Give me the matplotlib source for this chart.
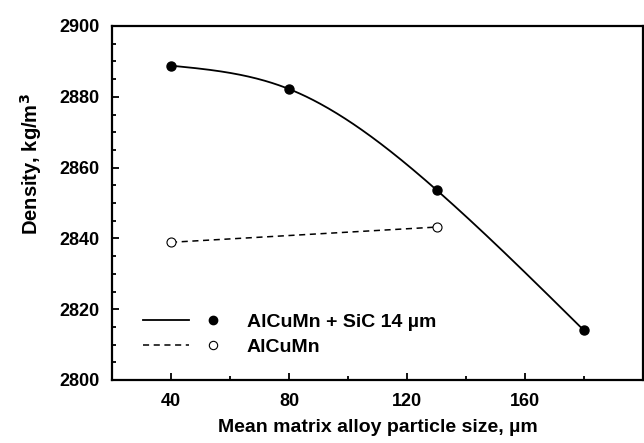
import numpy as np
import matplotlib
matplotlib.use("Agg")
from matplotlib import pyplot as plt
from matplotlib.legend_handler import HandlerTuple
from matplotlib.lines import Line2D
from matplotlib.ticker import FixedLocator, MultipleLocator

# donnees
size_sic = [40, 80, 130, 180]
density_sic = [2888.8, 2882.2, 2853.7, 2814.0]
size_base = [40, 130]
density_base = [2838.9, 2843.2]

x_ticks = [40, 80, 120, 160]
x_minor = [60, 100, 140, 180]

label_sic = "AlCuMn + SiC 14 µm"
label_base = "AlCuMn"


def spline_naturelle(x, y, xs):
    # spline cubique naturelle (derivees secondes nulles aux bouts)
    x = np.asarray(x, float)
    y = np.asarray(y, float)
    n = len(x)
    h = np.diff(x)
    A = np.zeros((n, n))
    r = np.zeros(n)
    A[0, 0] = 1
    A[-1, -1] = 1
    for i in range(1, n - 1):
        A[i, i - 1] = h[i - 1]
        A[i, i] = 2 * (h[i - 1] + h[i])
        A[i, i + 1] = h[i]
        r[i] = 6 * ((y[i + 1] - y[i]) / h[i] - (y[i] - y[i - 1]) / h[i - 1])
    M = np.linalg.solve(A, r)
    k = np.clip(np.searchsorted(x, xs) - 1, 0, n - 2)
    t0 = x[k + 1] - xs
    t1 = xs - x[k]
    hk = h[k]
    return (M[k] * t0**3 / (6 * hk) + M[k + 1] * t1**3 / (6 * hk)
            + (y[k] / hk - M[k] * hk / 6) * t0 + (y[k + 1] / hk - M[k + 1] * hk / 6) * t1)


plt.rcParams["font.family"] = ["Liberation Sans", "DejaVu Sans"]
plt.rcParams["font.weight"] = "bold"

fig = plt.figure(figsize=(6.44, 4.43), dpi=100)
ax = fig.add_axes([112/644, 63/443, 531/644, 354/443])

# courbe lissee pour la serie avec SiC
xs = np.linspace(min(size_sic), max(size_sic), 300)
ax.plot(xs, spline_naturelle(size_sic, density_sic, xs), color="black", lw=1.3)
ax.plot(size_sic, density_sic, "o", color="black", ms=6.5)

ax.plot(size_base, density_base, color="black", lw=1.1, dashes=(4, 3))
ax.plot(size_base, density_base, "o", mfc="white", mec="black", mew=0.8, ms=6.5)

ax.set_xlim(20, 200)
ax.set_ylim(2800, 2900)
ax.xaxis.set_major_locator(FixedLocator(x_ticks))
ax.xaxis.set_minor_locator(FixedLocator(x_minor))
ax.yaxis.set_major_locator(MultipleLocator(20))
ax.yaxis.set_minor_locator(MultipleLocator(5))
ax.tick_params(which="both", direction="in", top=False, right=False, width=1.3, labelsize=13)
ax.tick_params(which="major", length=5, pad=9)
ax.tick_params(which="minor", length=3)
for s in ax.spines.values():
    s.set_linewidth(1.6)

ax.set_xlabel("Mean matrix alloy particle size, µm", fontsize=14, fontweight="bold", labelpad=7)
ax.set_ylabel("Density, kg/m$^\\mathbf{3}$", fontsize=14.5, fontweight="bold")
ax.yaxis.set_label_coords(-0.128, 0.61)

# legende : trait puis symbole
h1 = (Line2D([], [], color="black", lw=1.3), Line2D([], [], marker="o", ls="", color="black", ms=6))
h2 = (Line2D([], [], color="black", lw=1.1, dashes=(4, 3)),
      Line2D([], [], marker="o", ls="", mfc="white", mec="black", mew=0.8, ms=6))
ax.legend([h1, h2], [label_sic, label_base], handler_map={tuple: HandlerTuple(ndivide=2, pad=0)},
          loc="upper left", bbox_to_anchor=(0.058, 0.189), frameon=False, borderpad=0,
          borderaxespad=0, handlelength=4.8, handletextpad=0.55, labelspacing=0.4,
          prop={"size": 14, "weight": "bold"})

fig.savefig("out.png", dpi=100)
